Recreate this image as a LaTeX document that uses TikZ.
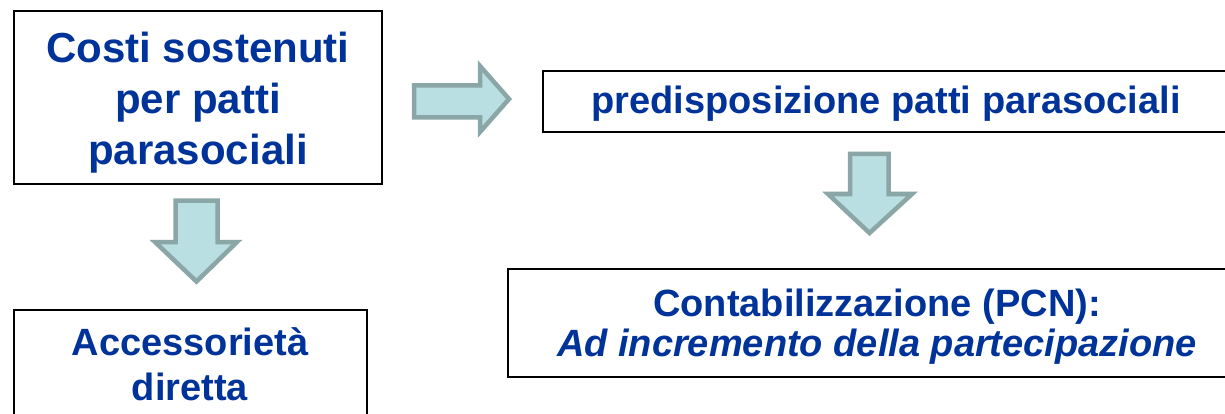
\documentclass[tikz,border=0pt]{standalone}
\usepackage{fontspec}
\setmainfont{Liberation Sans}
\definecolor{txtblue}{HTML}{00339A}
\definecolor{arrfill}{HTML}{B9DFE3}
\definecolor{arrdraw}{HTML}{8BA6A6}
\newcommand{\mylines}[1]{\begin{tabular}[t]{@{}c@{}}#1\end{tabular}}
\tikzset{
  box/.style={draw=black, line width=2pt, fill=white, inner sep=0pt},
  lbl/.style={text=txtblue, anchor=base, inner sep=0pt},
  blockarrow/.style={fill=arrfill, draw=arrdraw, line width=4.5pt, line join=miter},
}
\begin{document}
\begin{tikzpicture}[x=1pt,y=-1pt]
\clip (0,0) rectangle (1225,414);
\fill[white] (0,0) rectangle (1225,414);
% boxes
\node[box, minimum width=368pt, minimum height=173pt] (b1) at (198,97.5) {};
\node[box, minimum width=688pt, minimum height=61pt] (b2) at (887,101.5) {};
\node[box, minimum width=353pt, minimum height=110pt] (b3) at (190.5,365) {};
\node[box, minimum width=738pt, minimum height=108pt] (b4) at (877,323) {};
% texts
\node[lbl, font=\fontsize{42}{51}\selectfont\bfseries] (t1) at (198,63)
  {\mylines{Costi sostenuti\\per patti\\parasociali}};
\node[lbl, font=\fontsize{38}{45}\selectfont\bfseries] (t2) at (886,114)
  {predisposizione patti parasociali};
\node[lbl, font=\fontsize{38}{45}\selectfont\bfseries] (t3) at (190,355)
  {\mylines{Accessorietà\\diretta}};
\node[lbl, font=\fontsize{38}{40}\selectfont\bfseries] (t4) at (877,316)
  {\mylines{Contabilizzazione (PCN):\\\textit{Ad incremento della partecipazione}}};
% block arrows
\draw[blockarrow] (414,85.5) -- (480,85.5) -- (480,66) -- (509,99) -- (480,132)
  -- (480,117.5) -- (414,117.5) -- cycle;
\draw[blockarrow] (175.5,200.5) -- (217.5,200.5) -- (217.5,242) -- (237,242)
  -- (196.5,281.5) -- (155,242) -- (175.5,242) -- cycle;
\draw[blockarrow] (850,154) -- (888.5,154) -- (888.5,194) -- (912,194)
  -- (869.5,233) -- (828,194) -- (850,194) -- cycle;
\end{tikzpicture}
\end{document}
